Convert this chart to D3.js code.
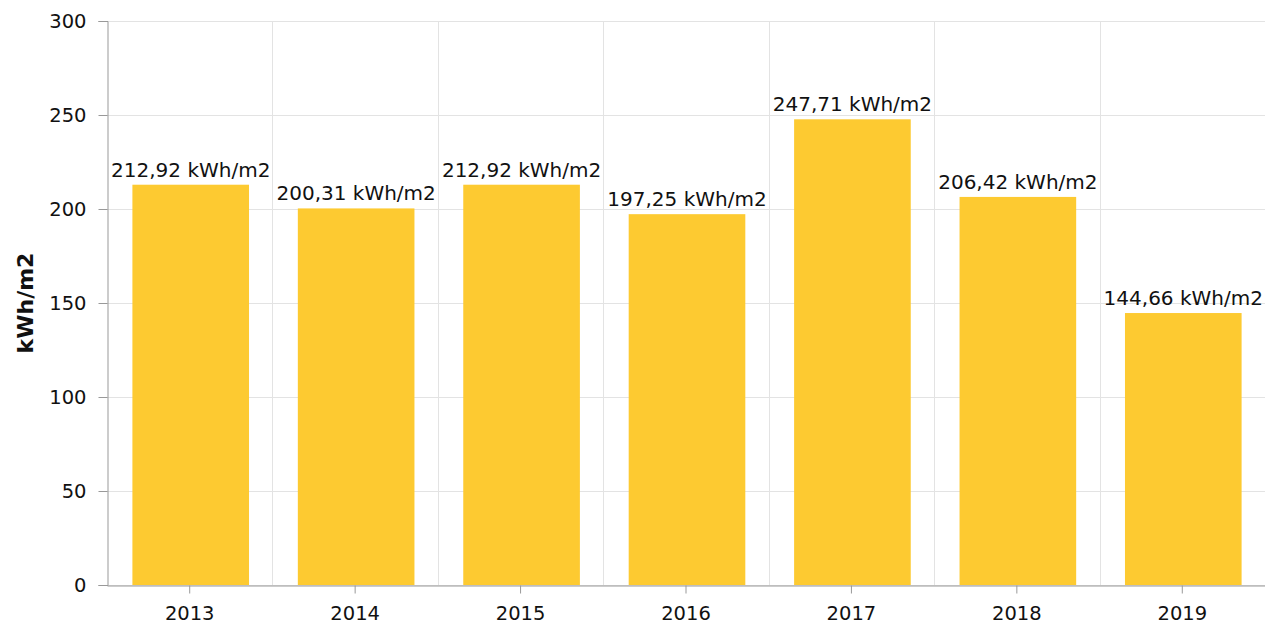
<!DOCTYPE html>
<html><head><meta charset="utf-8">
<script src="https://cdn.jsdelivr.net/npm/d3@7"></script>
<style>body{margin:0;background:#fff}svg{display:block}text{font-family:"DejaVu Sans",Verdana,sans-serif;fill:#111}</style>
</head><body>
<svg id="c" width="1265" height="627"></svg>
<script>
const categories = ["2013","2014","2015","2016","2017","2018","2019"];
const values = [212.92, 200.31, 212.92, 197.25, 247.71, 206.42, 144.66];
const yTicks = [0,50,100,150,200,250,300];
const yTitle = "kWh/m2";
const unit = " kWh/m2";

const svg = d3.select("#c");
const m = {l:107, r:1265, t:21, b:585};
const x = d3.scaleBand().domain(categories).range([m.l, m.r]).padding(0);
const y = d3.scaleLinear().domain([0,300]).range([m.b, m.t]);
const barW = x.bandwidth()*0.705;

// grid
svg.append("g").selectAll("line.h").data(yTicks).join("line")
  .attr("x1", m.l).attr("x2", m.r).attr("y1", d=>y(d)+0.5).attr("y2", d=>y(d)+0.5)
  .attr("stroke","#e3e3e3").attr("stroke-width",1);
const bounds = categories.map(c=>x(c)+x.bandwidth());
svg.append("g").selectAll("line.v").data(bounds).join("line")
  .attr("x1", d=>Math.round(d)+0.5).attr("x2", d=>Math.round(d)+0.5).attr("y1", m.t).attr("y2", m.b)
  .attr("stroke","#e3e3e3").attr("stroke-width",1);

// bars
svg.append("g").selectAll("rect").data(values).join("rect")
  .attr("x",(d,i)=>x(categories[i])+x.bandwidth()/2-barW/2+1)
  .attr("width",barW)
  .attr("y",d=>y(d)).attr("height",d=>y(0)-y(d))
  .attr("fill","#fdca31");

// labels
svg.append("g").selectAll("text").data(values).join("text")
  .attr("x",(d,i)=>x(categories[i])+x.bandwidth()/2+1)
  .attr("y",d=>y(d)-8)
  .attr("text-anchor","middle").style("font-size","20px")
  .text(d=>d.toFixed(2).replace(".",",")+unit);

// y axis
const ya = svg.append("g").attr("transform",`translate(${m.l+0.5},0)`)
  .call(d3.axisLeft(y).tickValues(yTicks).tickSize(9).tickPadding(12));
ya.select(".domain").attr("stroke","#999");
ya.selectAll(".tick line").attr("stroke","#999");
ya.selectAll(".tick text").style("font-size","19.5px").attr("fill","#111").style("font-family",'"DejaVu Sans",Verdana,sans-serif');

// x axis
const xa = svg.append("g").attr("transform",`translate(0,${m.b+0.5})`)
  .call(d3.axisBottom(x).tickSize(8).tickSizeOuter(0).tickPadding(13));
xa.select(".domain").attr("stroke","#999");
xa.selectAll(".tick line").attr("stroke","#999");
xa.selectAll(".tick text").style("font-size","19.5px").attr("fill","#111").style("font-family",'"DejaVu Sans",Verdana,sans-serif');

svg.append("text").attr("transform",`translate(33,${(m.t+m.b)/2}) rotate(-90)`)
  .attr("text-anchor","middle").style("font-size","22px").style("font-weight","bold").text(yTitle);
</script>
</body></html>
